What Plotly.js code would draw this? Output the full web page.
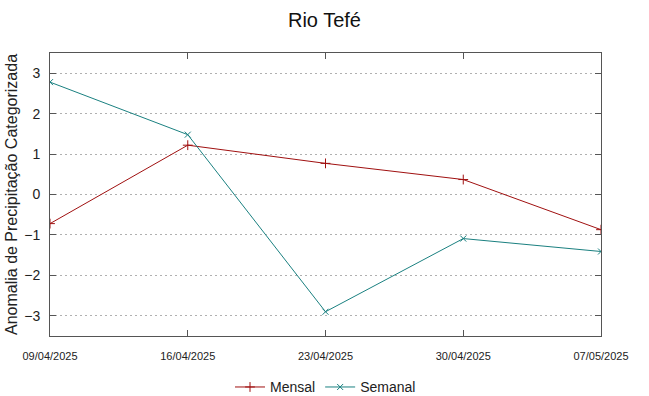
<!DOCTYPE html>
<html>
<head>
<meta charset="utf-8">
<script src="https://cdn.plot.ly/plotly-3.0.1.min.js"></script>
<style>html,body{margin:0;padding:0;background:#fff;}</style>
</head>
<body>
<div id="chart" style="width:649px;height:396px;"></div>
<script>
const dates = ["09/04/2025", "16/04/2025", "23/04/2025", "30/04/2025", "07/05/2025"];
const mensal = [-0.72, 1.22, 0.77, 0.37, -0.87];
const semanal = [2.78, 1.48, -2.90, -1.09, -1.41];
const yTicks = [-3, -2, -1, 0, 1, 2, 3];

const traces = [
  {x: dates, y: mensal, name: "Mensal", type: "scatter", mode: "lines+markers",
   line: {color: "#a01010", width: 1}, marker: {symbol: "cross-thin-open", size: 7, color: "#a01010", line: {color: "#a01010", width: 1}}},
  {x: dates, y: semanal, name: "Semanal", type: "scatter", mode: "lines+markers",
   line: {color: "#1a8080", width: 1}, marker: {symbol: "x-thin-open", size: 6, color: "#1a8080", line: {color: "#1a8080", width: 1}}}
];

const layout = {
  width: 649, height: 396,
  margin: {l: 50, r: 48, t: 53, b: 60, autoexpand: false},
  paper_bgcolor: "#fff", plot_bgcolor: "#fff",
  font: {family: "Liberation Sans, Arial, sans-serif", color: "#222"},
  title: {text: "Rio Tefé", x: 0.5, xanchor: "center", y: 0.95, yanchor: "middle", font: {size: 20, color: "#111"}},
  xaxis: {type: "category", range: [0, 4], showgrid: false, showline: true, mirror: "ticks",
          linecolor: "#555", linewidth: 1, ticks: "inside", ticklen: 6, tickcolor: "#555", ticklabelstandoff: 10,
          tickfont: {size: 11, color: "#222"}, zeroline: false},
  yaxis: {range: [-3.5, 3.5], tickvals: yTicks, showgrid: true, gridcolor: "#b0b0b0", griddash: "2px,3px", gridwidth: 1,
          showline: true, mirror: "ticks", linecolor: "#555", linewidth: 1, ticks: "inside", ticklen: 6, tickcolor: "#555",
          ticklabelstandoff: 6, zeroline: false, tickfont: {size: 14, color: "#222"}, automargin: true,
          title: {text: "Anomalia de Precipitação Categorizada", font: {size: 16, color: "#222"}, standoff: 2}},
  legend: {orientation: "h", x: 0.5, xanchor: "center", y: -0.125, yanchor: "top", font: {size: 14, color: "#222"}},
  showlegend: true
};

Plotly.newPlot("chart", traces, layout, {displayModeBar: false, staticPlot: true});
</script>
</body>
</html>
